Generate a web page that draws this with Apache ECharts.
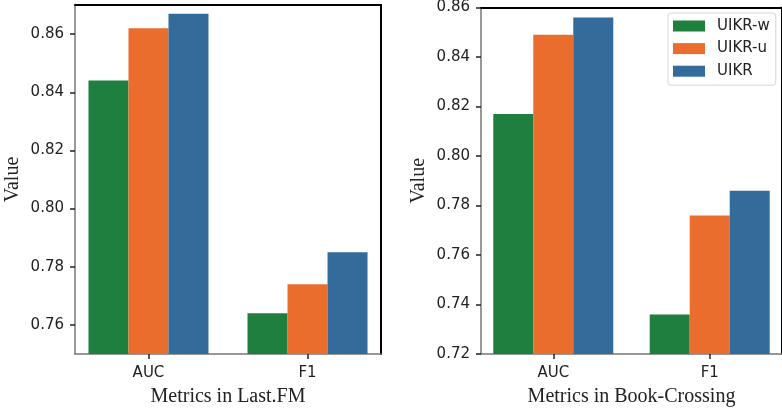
<!DOCTYPE html>
<html>
<head>
<meta charset="utf-8">
<script src="https://cdn.jsdelivr.net/npm/echarts@6/dist/echarts.min.js"></script>
<style>html,body{margin:0;padding:0;background:#fff}#c{width:782px;height:412px}</style>
</head>
<body>
<div id="c"></div>
<script>
const categories = ['AUC', 'F1'];
const seriesNames = ['UIKR-w', 'UIKR-u', 'UIKR'];
const lastfmW = [0.844, 0.764];
const lastfmU = [0.862, 0.774];
const lastfmFull = [0.867, 0.785];
const bookW = [0.817, 0.736];
const bookU = [0.849, 0.776];
const bookFull = [0.856, 0.786];
const leftTicks = [0.76, 0.78, 0.80, 0.82, 0.84, 0.86];
const rightTicks = [0.72, 0.74, 0.76, 0.78, 0.80, 0.82, 0.84, 0.86];
const xTitles = ['Metrics in Last.FM', 'Metrics in Book-Crossing'];
const yTitle = 'Value';

const colors = ['#1e7f3e', '#eb6d2e', '#336b9a'];
const sans = 'DejaVu Sans';
const serif = 'Liberation Serif';
const XMIN = -0.462, XMAX = 1.462;

function xBottom(gi, title) {
  return {
    type: 'value', gridIndex: gi, position: 'bottom', min: XMIN, max: XMAX,
    splitLine: {show: false},
    axisLine: {show: true, onZero: false, lineStyle: {color: '#777', width: 1.5}},
    axisTick: {show: true, length: 5, lineStyle: {color: '#222', width: 1.5}, customValues: [0, 1]},
    axisLabel: {show: true, customValues: [0, 1], margin: 12, fontFamily: sans, fontSize: 15, color: '#222',
      formatter: v => categories[Math.round(v)] || ''},
    name: title, nameLocation: 'middle', nameGap: 33,
    nameTextStyle: {fontFamily: serif, fontSize: 20, color: '#222'}
  };
}
function xTop(gi) {
  return {
    type: 'value', gridIndex: gi, position: 'top', min: XMIN, max: XMAX,
    splitLine: {show: false}, axisTick: {show: false}, axisLabel: {show: false},
    axisLine: {show: true, onZero: false, lineStyle: {color: '#000', width: 2}}
  };
}
function yLeft(gi, mn, mx, ticks) {
  return {
    type: 'value', gridIndex: gi, position: 'left', min: mn, max: mx,
    splitLine: {show: false},
    axisLine: {show: true, onZero: false, lineStyle: {color: '#777', width: 1.5}},
    axisTick: {show: true, length: 5, lineStyle: {color: '#222', width: 1.5}, customValues: ticks},
    axisLabel: {show: true, customValues: ticks, margin: 11, fontFamily: sans, fontSize: 15, color: '#222',
      formatter: v => v.toFixed(2)},
    name: yTitle, nameLocation: 'middle', nameGap: 52, nameRotate: 90,
    nameTextStyle: {fontFamily: serif, fontSize: 20, color: '#222'}
  };
}
function yRight(gi, mn, mx) {
  return {
    type: 'value', gridIndex: gi, position: 'right', min: mn, max: mx,
    splitLine: {show: false}, axisTick: {show: false}, axisLabel: {show: false},
    axisLine: {show: true, onZero: false, lineStyle: {color: '#000', width: 2}}
  };
}
function bars(gi, arrays) {
  return arrays.map((arr, i) => ({
    type: 'bar', name: seriesNames[i], xAxisIndex: gi, yAxisIndex: gi,
    barWidth: 40, barGap: '0%',
    itemStyle: {color: colors[i]},
    data: arr.map((v, k) => [k, v])
  }));
}

const chart = echarts.init(document.getElementById('c'), null, {renderer: 'canvas'});
chart.setOption({
  animation: false,
  backgroundColor: '#fff',
  grid: [
    {left: 75, top: 5, width: 306, height: 350},
    {left: 481, top: 6, width: 305, height: 350}
  ],
  xAxis: [xBottom(0, xTitles[0]), xBottom(1, xTitles[1]), xTop(0), xTop(1)],
  yAxis: [yLeft(0, 0.75, 0.87, leftTicks), yLeft(1, 0.72, 0.86, rightTicks), yRight(0, 0.75, 0.87), yRight(1, 0.72, 0.86)],
  legend: {
    data: seriesNames, orient: 'vertical', left: 668, top: 13,
    icon: 'rect', itemWidth: 32, itemHeight: 11, itemGap: 6.6,
    padding: [5, 6, 6, 5],
    backgroundColor: '#fff', borderColor: '#d6d6d6', borderWidth: 1, borderRadius: 3,
    textStyle: {fontFamily: sans, fontSize: 15, color: '#222', lineHeight: 16, padding: [0, 0, 0, 7]}
  },
  series: [
    ...bars(0, [lastfmW, lastfmU, lastfmFull]),
    ...bars(1, [bookW, bookU, bookFull])
  ]
});
</script>
</body>
</html>
